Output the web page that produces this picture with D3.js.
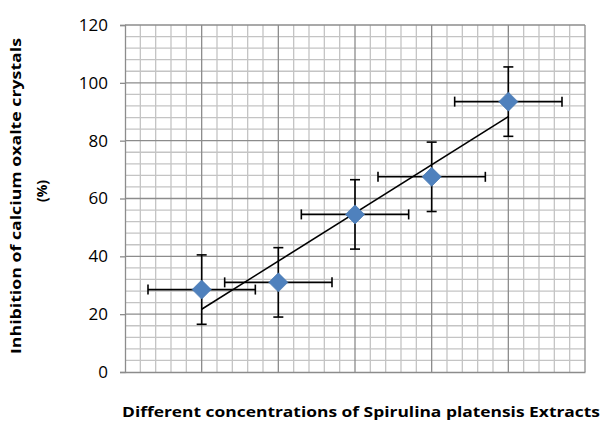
<!DOCTYPE html>
<html>
<head>
<meta charset="utf-8">
<script src="https://cdn.jsdelivr.net/npm/d3@7"></script>
<style>
  body { margin: 0; background: #fff; }
  text { font-family: "Open Sans", "Liberation Sans", sans-serif; }
  .ylab text { font-size: 17px; fill: #000; }
</style>
</head>
<body>
<div id="chart"></div>
<script>
// data
var concentration = [1, 2, 3, 4, 5];
var inhibition = [28.5, 31, 54.5, 67.5, 93.5];
var yError = [12, 12, 12, 12, 12];
var xError = [0.7, 0.7, 0.7, 0.7, 0.7];
var yTicks = [0, 20, 40, 60, 80, 100, 120];

var width = 604, height = 425;
var margin = { top: 25, right: 19, bottom: 53, left: 125 };
var w = width - margin.left - margin.right,
    h = height - margin.top - margin.bottom;

var svg = d3.select("#chart").append("svg")
    .attr("width", width)
    .attr("height", height);

var g = svg.append("g")
    .attr("transform", "translate(" + margin.left + "," + margin.top + ")");

var x = d3.scaleLinear().domain([0, 6]).range([0, w]);
var y = d3.scaleLinear().domain([0, 120]).range([h, 0]);

// minor grid
var minorX = d3.range(0, 6.01, 0.2).filter(function (d) { return Math.abs(d - Math.round(d)) > 0.01; });
var minorY = d3.range(0, 120.1, 4).filter(function (d) { return d % 20 !== 0; });

g.selectAll(".minx").data(minorX).enter().append("line")
    .attr("x1", d => x(d)).attr("x2", d => x(d))
    .attr("y1", 0).attr("y2", h)
    .attr("stroke", "#c4c4c4").attr("stroke-width", 1.3);
g.selectAll(".miny").data(minorY).enter().append("line")
    .attr("x1", 0).attr("x2", w)
    .attr("y1", d => y(d)).attr("y2", d => y(d))
    .attr("stroke", "#c4c4c4").attr("stroke-width", 1.3);

// major grid
g.selectAll(".majx").data([1, 2, 3, 4, 5, 6]).enter().append("line")
    .attr("x1", d => x(d)).attr("x2", d => x(d))
    .attr("y1", 0).attr("y2", h)
    .attr("stroke", "#8c8c8c").attr("stroke-width", 1.3);
g.selectAll(".majy").data(yTicks.slice(1)).enter().append("line")
    .attr("x1", 0).attr("x2", w)
    .attr("y1", d => y(d)).attr("y2", d => y(d))
    .attr("stroke", "#8c8c8c").attr("stroke-width", 1.3);

// y axis
var yAxis = g.append("g")
    .attr("class", "ylab")
    .call(d3.axisLeft(y).tickValues(yTicks).tickSize(5).tickPadding(12));
yAxis.attr("font-size", null).attr("font-family", null);
yAxis.select(".domain").attr("stroke", "#8c8c8c").attr("stroke-width", 1.3);
yAxis.selectAll(".tick line").attr("stroke", "#8c8c8c").attr("stroke-width", 1.3);

// x axis line only
var xAxis = g.append("g")
    .attr("transform", "translate(0," + h + ")")
    .call(d3.axisBottom(x).tickValues([]).tickSizeOuter(0));
xAxis.select(".domain").attr("stroke", "#8c8c8c").attr("stroke-width", 1.6);

// linear trend line from the data
var mx = d3.mean(concentration), my = d3.mean(inhibition);
var slope = d3.sum(concentration, (c, i) => (c - mx) * (inhibition[i] - my)) /
    d3.sum(concentration, c => (c - mx) * (c - mx));
var icpt = my - slope * mx;
var x0 = d3.min(concentration), x1 = d3.max(concentration);

// error bars
var pts = concentration.map(function (c, i) {
    return { x: c, y: inhibition[i], ey: yError[i], ex: xError[i] };
});
var cap = 5;
var eb = g.append("g").attr("stroke", "#000").attr("stroke-width", 1.6);
pts.forEach(function (p) {
    // vertical
    eb.append("line").attr("x1", x(p.x)).attr("x2", x(p.x))
        .attr("y1", y(p.y - p.ey)).attr("y2", y(p.y + p.ey));
    eb.append("line").attr("x1", x(p.x) - cap).attr("x2", x(p.x) + cap)
        .attr("y1", y(p.y + p.ey)).attr("y2", y(p.y + p.ey));
    eb.append("line").attr("x1", x(p.x) - cap).attr("x2", x(p.x) + cap)
        .attr("y1", y(p.y - p.ey)).attr("y2", y(p.y - p.ey));
    // horizontal
    eb.append("line").attr("x1", x(p.x - p.ex)).attr("x2", x(p.x + p.ex))
        .attr("y1", y(p.y)).attr("y2", y(p.y));
    eb.append("line").attr("x1", x(p.x - p.ex)).attr("x2", x(p.x - p.ex))
        .attr("y1", y(p.y) - cap).attr("y2", y(p.y) + cap);
    eb.append("line").attr("x1", x(p.x + p.ex)).attr("x2", x(p.x + p.ex))
        .attr("y1", y(p.y) - cap).attr("y2", y(p.y) + cap);
});

g.append("line")
    .attr("x1", x(x0)).attr("y1", y(icpt + slope * x0))
    .attr("x2", x(x1)).attr("y2", y(icpt + slope * x1))
    .attr("stroke", "#000").attr("stroke-width", 1.6);

// diamond markers
var r = 9.5;
g.selectAll(".pt").data(pts).enter().append("path")
    .attr("d", function (p) {
        var cx = x(p.x), cy = y(p.y);
        return "M" + cx + "," + (cy - r) + "L" + (cx + r) + "," + cy +
            "L" + cx + "," + (cy + r) + "L" + (cx - r) + "," + cy + "Z";
    })
    .attr("fill", "#4f81bd")
    .attr("stroke", "#4a7ab3").attr("stroke-width", 0.8);

// axis titles
svg.append("text")
    .attr("transform", "translate(21,196) rotate(-90)")
    .attr("text-anchor", "middle")
    .style("font-size", "14px").attr("font-weight", "bold")
    .attr("textLength", 316).attr("lengthAdjust", "spacingAndGlyphs")
    .text("Inhibition of calcium oxalte crystals");
svg.append("text")
    .attr("transform", "translate(47,191) rotate(-90)")
    .attr("text-anchor", "middle")
    .style("font-size", "14px").attr("font-weight", "bold")
    .text("(%)");

svg.append("text")
    .attr("x", 361).attr("y", 417)
    .attr("text-anchor", "middle")
    .style("font-size", "14px").attr("font-weight", "bold")
    .attr("textLength", 478).attr("lengthAdjust", "spacingAndGlyphs")
    .text("Different concentrations of Spirulina platensis Extracts");
</script>
</body>
</html>
